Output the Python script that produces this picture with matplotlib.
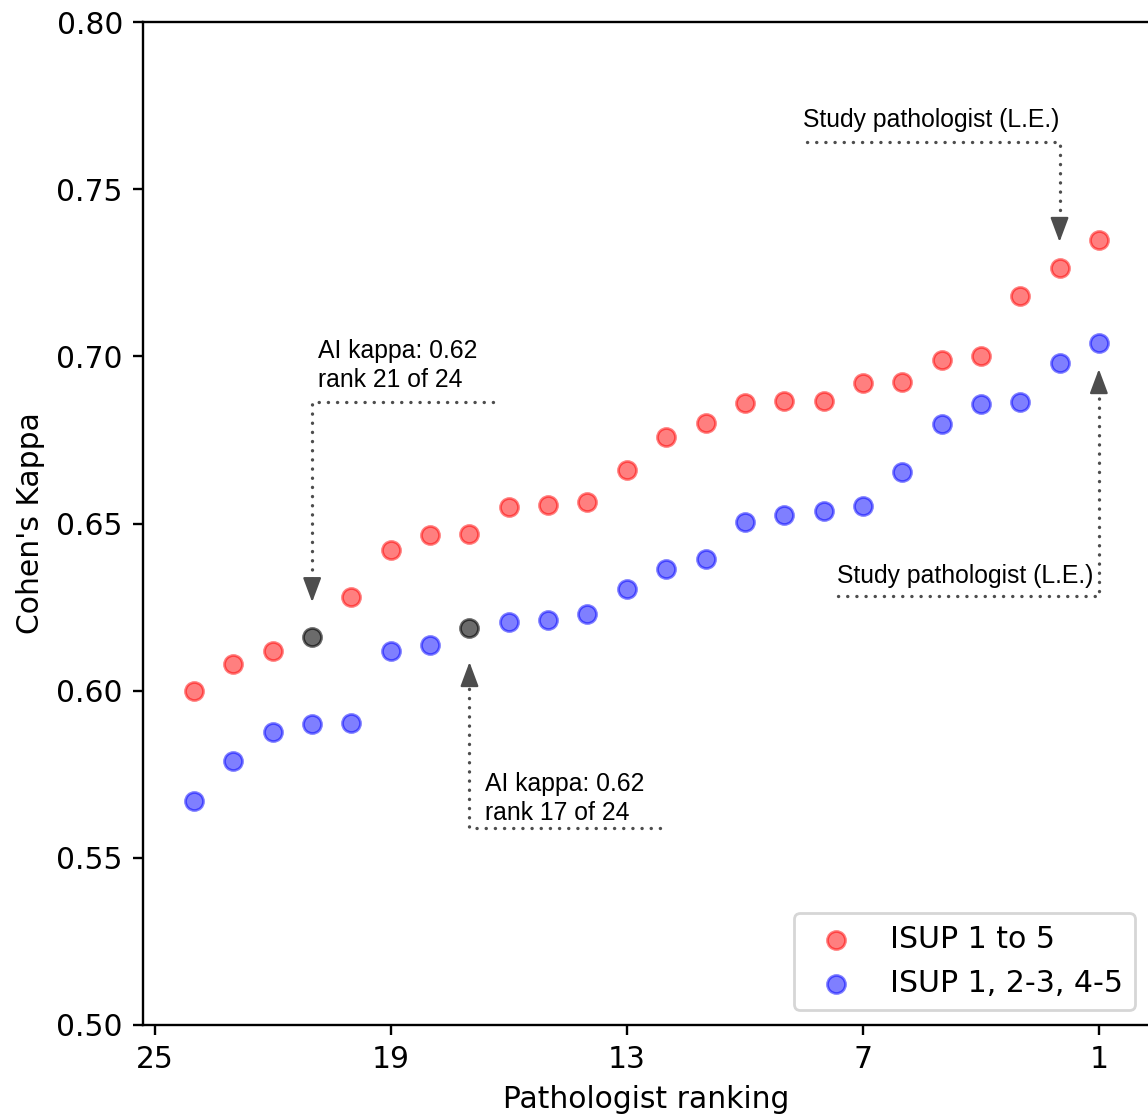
import matplotlib.pyplot as plt

# pathologist ranking, 24 = lowest kappa, 1 = highest
ranks = list(range(24, 0, -1))

kappa_isup5 = [0.600, 0.608, 0.612, 0.616, 0.628, 0.642, 0.6465, 0.647,
               0.655, 0.6555, 0.6565, 0.666, 0.676, 0.680, 0.686, 0.6866,
               0.6866, 0.692, 0.6923, 0.699, 0.700, 0.718, 0.7264, 0.7348]
kappa_grouped = [0.567, 0.579, 0.5876, 0.590, 0.5903, 0.6118, 0.6136, 0.6187,
                 0.6205, 0.6211, 0.6229, 0.6304, 0.6364, 0.6394, 0.6504, 0.6525,
                 0.6538, 0.6552, 0.6654, 0.6797, 0.6857, 0.6863, 0.698, 0.704]

ai_rank_isup5 = 21
ai_rank_grouped = 17
study_rank_isup5 = 2
study_rank_grouped = 1

x_ticks = [25, 19, 13, 7, 1]
y_ticks = [0.50, 0.55, 0.60, 0.65, 0.70, 0.75, 0.80]

fig = plt.figure(figsize=(5.74, 5.59), dpi=200)
ax = fig.add_axes([143 / 1148, 1 - 1025 / 1118, 1007 / 1148, 1003 / 1118])

fs = 10.7


def split(values, ai_rank):
    xs = [r for r in ranks if r != ai_rank]
    ys = [v for r, v in zip(ranks, values) if r != ai_rank]
    return xs, ys, values[ranks.index(ai_rank)]


xr, yr, ai_r = split(kappa_isup5, ai_rank_isup5)
xb, yb, ai_b = split(kappa_grouped, ai_rank_grouped)

ax.scatter(xr, yr, s=42, c='red', alpha=0.5, label='ISUP 1 to 5')
ax.scatter(xb, yb, s=42, c='blue', alpha=0.5, label='ISUP 1, 2-3, 4-5')
ax.scatter([ai_rank_isup5, ai_rank_grouped], [ai_r, ai_b], s=42, c='k', alpha=0.58)

ax.set_xlim(25.3, -0.3)
ax.set_ylim(0.5, 0.8)
ax.set_xticks(x_ticks)
ax.set_yticks(y_ticks)
ax.set_yticklabels([f'{v:.2f}' for v in y_ticks])
ax.tick_params(labelsize=fs, length=3.7, width=0.85)
for s in ax.spines.values():
    s.set_linewidth(0.85)

ax.set_xlabel('Pathologist ranking', fontsize=fs)
ax.set_ylabel("Cohen's Kappa", fontsize=fs)

ax.legend(loc='lower right', fontsize=10.8)

head_len = 7.5  # points


def note(text, text_pos, start, target, shrink, up):
    # dotted elbow connector
    ax.annotate('', xy=target, xytext=start,
                arrowprops=dict(arrowstyle='-',
                                connectionstyle='angle,angleA=0,angleB=90,rad=0',
                                linestyle=(0, (0.05, 2.7)), lw=1.2, capstyle='round',
                                color='0.3', shrinkA=0,
                                shrinkB=shrink + head_len - 1))
    # solid arrow head
    off = -(shrink + head_len) if up else (shrink + head_len)
    ax.annotate('', xy=target, xytext=(0, off), textcoords='offset points',
                arrowprops=dict(arrowstyle='-|>,head_length=0.75,head_width=0.28',
                                color='0.3', lw=0.8, shrinkA=0, shrinkB=shrink,
                                mutation_scale=10))
    ax.text(text_pos[0], text_pos[1], text, fontsize=8.9, family='Liberation Sans',
            ha='left', va='baseline', linespacing=1.25)


note('Study pathologist (L.E.)', (8.52, 0.7686), (8.42, 0.7641),
     (study_rank_isup5, kappa_isup5[ranks.index(study_rank_isup5)]), 9.4, False)
note('AI kappa: 0.62\nrank 21 of 24', (20.86, 0.6908), (16.41, 0.6863),
     (ai_rank_isup5, ai_r), 12.6, False)
note('AI kappa: 0.62\nrank 17 of 24', (16.61, 0.5613), (12.16, 0.5589),
     (ai_rank_grouped, ai_b), 12.2, True)
note('Study pathologist (L.E.)', (7.66, 0.6322), (7.63, 0.6283),
     (study_rank_grouped, kappa_grouped[ranks.index(study_rank_grouped)]), 9.4, True)

plt.savefig('out.png', dpi=200)
